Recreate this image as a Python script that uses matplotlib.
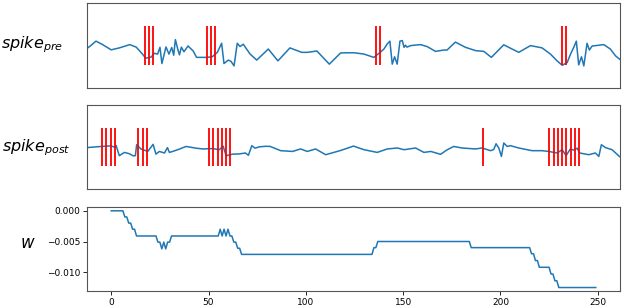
import matplotlib
matplotlib.use('Agg')
from matplotlib import pyplot as plt

# spike times
pre_spikes = [27, 29, 31, 56, 58, 60, 135, 137, 222, 224]
post_spikes = [7, 9, 11, 13, 24, 26, 28, 57, 59, 61, 63, 65, 67, 185,
               216, 218, 220, 222, 224, 226, 228, 230]

# presynaptic trace
pre_t = [0, 2, 4.2, 7.3, 11.3, 15.1, 20, 23, 26, 27.4, 29.9, 31.5, 33, 34.1, 35,
         36.9, 38.3, 39.6, 40.5, 41.3, 42.4, 43.2, 44.1, 45.3, 47.2, 49.6, 51.2,
         55.9, 58.5, 60.9, 62.9, 64.0, 66.0, 67.3, 68.7, 70.2, 71.5, 73, 76.2,
         79.3, 84.7, 89.2, 94.8, 100.3, 103, 107.4, 113.2, 118.5, 124.7, 129.4,
         134, 136.4, 138.7, 140.3, 141.5, 142.6, 143.7, 144.9, 146.2, 147.3,
         148.1, 148.8, 149.5, 151.2, 155.8, 158.9, 162.8, 166.7, 168.2, 172.1,
         176.8, 181.5, 185.4, 188.9, 194.7, 198.6, 201.7, 207.2, 212.6, 216.5,
         219.6, 222, 224.3, 225.9, 227.4, 228.6, 229.7, 231, 232.1, 233.6, 234.7,
         236, 237.8, 241.4, 244.5, 246.9, 249]
pre_v = [-0.15, 0.02, 0.23, 0.05, -0.22, -0.12, 0.05, -0.08, -0.45, -0.65, -0.60,
         -0.40, -0.44, -0.09, -0.93, -0.07, -0.44, -0.10, -0.50, 0.31, -0.18,
         -0.48, -0.08, -0.32, -0.02, -0.28, -0.61, -0.61, -0.58, -0.35, 0.12,
         -0.93, -0.75, -0.82, -1.05, 0.12, -0.05, 0.07, -0.44, -0.75, -0.18,
         -0.79, -0.12, -0.35, -0.35, -0.28, -0.96, -0.38, -0.37, -0.44, -0.61,
         -0.40, -0.18, 0.09, 0.23, -0.96, -0.58, -0.96, 0.23, 0.26, -0.09, 0.02,
         -0.08, 0.0, 0.05, -0.05, -0.30, -0.23, -0.23, 0.18, -0.09, -0.26, -0.30,
         -0.61, 0.04, -0.18, -0.35, 0.0, -0.12, -0.44, -0.79, -1.02, -0.88, -0.44,
         -0.09, 0.23, -1.0, -0.58, -1.05, 0.12, -0.23, -0.02, 0.0, 0.05, -0.18,
         -0.53, -0.72]

# postsynaptic trace
post_t = [0, 6.5, 11.2, 13.0, 13.6, 15.1, 17.5, 19.8, 21.6, 22.6, 23.2, 25.2,
          28.4, 30.9, 32.2, 33.8, 36.2, 37.6, 38.5, 40, 42.4, 46.3, 51, 54.1,
          58.7, 61.8, 63.6, 64.6, 65, 68.1, 71.2, 74, 75.4, 77.0, 78.5, 80.5,
          83.6, 85.6, 90.5, 96, 99.8, 102.9, 106.8, 111.5, 118.5, 124.5, 129.4,
          135.6, 140.3, 145, 148.1, 153.5, 157.4, 160.6, 165.2, 168, 171.3, 175.2,
          181.5, 184.6, 188.5, 190, 191.1, 192.4, 193.6, 194.7, 196.3, 197.8,
          201.7, 207.9, 212.6, 215.7, 219.6, 222, 223.8, 225.8, 227.4, 229, 230.1,
          234.4, 237.5, 239.1, 240.3, 242.2, 245.3, 248.7, 249]
post_v = [-0.02, 0.04, 0.07, 0.0, 0.09, -0.44, -0.27, -0.34, -0.45, -0.44, 0.13,
          -0.09, -0.22, 0.15, -0.36, -0.22, -0.30, -0.02, -0.27, -0.22, -0.13,
          0.04, -0.05, -0.09, -0.07, -0.13, 0.06, -0.30, -0.44, -0.36, -0.35,
          -0.30, -0.42, 0.08, -0.05, 0.02, 0.05, 0.04, -0.18, -0.22, -0.09,
          -0.22, -0.09, -0.39, -0.17, 0.06, -0.13, -0.27, -0.09, -0.04, -0.13,
          -0.04, -0.27, -0.22, -0.37, -0.15, 0.04, -0.04, -0.09, -0.04, -0.18,
          -0.12, 0.18, -0.05, -0.48, 0.22, 0.04, 0.08, -0.04, -0.18, -0.18,
          -0.22, -0.30, -0.13, -0.44, -0.09, -0.15, -0.05, -0.30, -0.39, -0.30,
          -0.48, 0.13, -0.02, -0.13, -0.48, -0.5]

# synaptic weight
w_t = [0, 6, 7, 8, 9, 10, 11, 12, 13, 23, 24, 25, 26, 27, 28, 29, 30, 31, 55, 56,
       57, 58, 59, 60, 61, 62, 63, 64, 65, 66, 67, 134, 135, 136, 137, 184, 185,
       215, 216, 217, 218, 219, 220, 225, 226, 227, 228, 229, 230, 249]
w_v = [0, 0, -0.001, -0.001, -0.002, -0.002, -0.003, -0.003, -0.0041, -0.0041,
       -0.0051, -0.0051, -0.0062, -0.0051, -0.0062, -0.0051, -0.0051, -0.0041,
       -0.0041, -0.003, -0.0041, -0.003, -0.0041, -0.003, -0.0041, -0.0041,
       -0.0051, -0.0051, -0.0061, -0.0061, -0.0071, -0.0071, -0.006, -0.006,
       -0.005, -0.005, -0.006, -0.006, -0.007, -0.007, -0.0081, -0.0081, -0.0092,
       -0.0092, -0.0103, -0.0103, -0.0114, -0.0114, -0.0125, -0.0125]

blue = '#1f77b4'
fig = plt.figure(figsize=(6.24, 3.08), dpi=100)
ax1 = fig.add_axes([0.1394, 0.714, 0.8542, 0.276])
ax2 = fig.add_axes([0.1394, 0.385, 0.8542, 0.274])
ax3 = fig.add_axes([0.1394, 0.054, 0.8542, 0.274])

for ax, t, v, spikes in [(ax1, pre_t, pre_v, pre_spikes), (ax2, post_t, post_v, post_spikes)]:
    ax.plot(t, v, color=blue, lw=1.1)
    ax.vlines(spikes, -1, 1, color='red', lw=1.3)
    ax.set_xlim(0, 249)
    ax.set_ylim(-2.2, 2.2)
    ax.set_xticks([])
    ax.set_yticks([])

ax3.plot(w_t, w_v, color=blue, lw=1.1)
ax3.set_xticks([0, 50, 100, 150, 200, 250])
ax3.set_yticks([0, -0.005, -0.01])
ax3.tick_params(labelsize=6.5, length=3, width=0.6, pad=1.5)

for ax in [ax1, ax2, ax3]:
    for s in ax.spines.values():
        s.set_color('#555555')
        s.set_linewidth(0.8)

fig.text(0.052, 0.855, '$spike_{pre}$', fontsize=11.5, ha='center', va='center')
fig.text(0.058, 0.52, '$spike_{post}$', fontsize=11.5, ha='center', va='center')
fig.text(0.045, 0.21, '$w$', fontsize=12, ha='center', va='center')

fig.savefig('out.png', dpi=100)
